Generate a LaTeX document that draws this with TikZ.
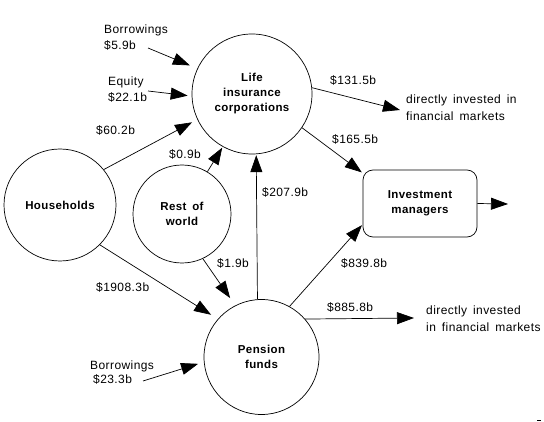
\documentclass[tikz,border=0pt]{standalone}
\usepackage{fontspec}
\setmainfont{Liberation Sans}[LetterSpace=3.5,WordSpace=1.6]
\usetikzlibrary{arrows.meta}
\begin{document}
\begin{tikzpicture}[x=1pt,y=-1pt,
  font=\fontsize{12}{15}\selectfont,
  circ/.style={draw,circle,line width=0.7pt,inner sep=0pt,align=center,font=\fontsize{11.5}{15}\selectfont\bfseries},
  box/.style={draw,rectangle,rounded corners=10pt,line width=0.7pt,inner sep=0pt,align=center,minimum width=114pt,minimum height=67pt,font=\fontsize{11.5}{15}\selectfont\bfseries},
  arr/.style={line width=0.7pt,-{Triangle[length=17pt,width=12pt]}},
  lab/.style={inner sep=0pt,anchor=base west}]
\useasboundingbox (0,0) rectangle (544,422);
% nodes
\node[circ,minimum size=120pt] (lic) at (252,94) {Life\\insurance\\corporations};
\node[circ,minimum size=112pt] (hh) at (60,205) {Households};
\node[circ,minimum size=98pt] (row) at (182,214) {Rest of\\world};
\node[circ,minimum size=115pt] (pf) at (261.5,357) {Pension\\funds};
\node[box] (im) at (420,203.5) {Investment\\managers};
% free ends
\coordinate (b1) at (148,48);
\coordinate (eq) at (148,91);
\coordinate (b2) at (143,381);
\coordinate (dm1) at (400,110);
\coordinate (dm2) at (414,318);
\coordinate (imo) at (508,204);
% connectors
\draw[arr,shorten >=8pt] (b1) -- (lic.155.7);
\draw[arr,shorten >=4pt] (eq) -- (lic.182.7);
\draw[arr,shorten >=6pt] (hh.39.3) -- (lic.205);
\draw[arr,shorten >=1pt] (row.59.2) -- (lic.241.8);
\draw[arr,shorten >=1pt] (pf.94.5) -- (lic.274.8);
\draw[arr,shorten >=9pt] (row.295.5) -- (pf.117.3);
\draw[arr,shorten >=8pt] (hh.315.7) -- (pf.139);
\draw[arr,shorten >=6pt] (b2) -- (pf.185.4);
\draw[arr] (pf.41.9) -- (dm2);
\draw[arr,shorten >=1pt] (pf.61.3) -- (im.200);
\draw[arr,shorten >=1pt] (lic.326.6) -- (im.152.6);
\draw[arr] (lic.6.8) -- (dm1);
\draw[arr] (im.east) -- (imo);
% labels
\node[lab] (l1) at (104,34) {Borrowings};
\node[lab] (l2) at (104,50) {\$5.9b};
\node[lab] (l3) at (108,86) {Equity};
\node[lab] (l4) at (108,102) {\$22.1b};
\node[lab] (l5) at (96,135) {\$60.2b};
\node[lab] (l6) at (169,159) {\$0.9b};
\node[lab] (l7) at (262,197) {\$207.9b};
\node[lab] (l8) at (217,268) {\$1.9b};
\node[lab] (l9) at (96,292) {\$1908.3b};
\node[lab] (l10) at (90,370) {Borrowings};
\node[lab] (l11) at (93,383) {\$23.3b};
\node[lab] (l12) at (327,312) {\$885.8b};
\node[lab] (l13) at (426,315) {directly invested};
\node[lab] (l14) at (426,332) {in financial markets};
\node[lab] (l15) at (341,268) {\$839.8b};
\node[lab] (l16) at (332,144) {\$165.5b};
\node[lab] (l17) at (330,85) {\$131.5b};
\node[lab] (l18) at (406,104) {directly invested in};
\node[lab] (l19) at (406,121) {financial markets};
\draw[line width=0.7pt] (537,420) -- (541,420);
\end{tikzpicture}
\end{document}
